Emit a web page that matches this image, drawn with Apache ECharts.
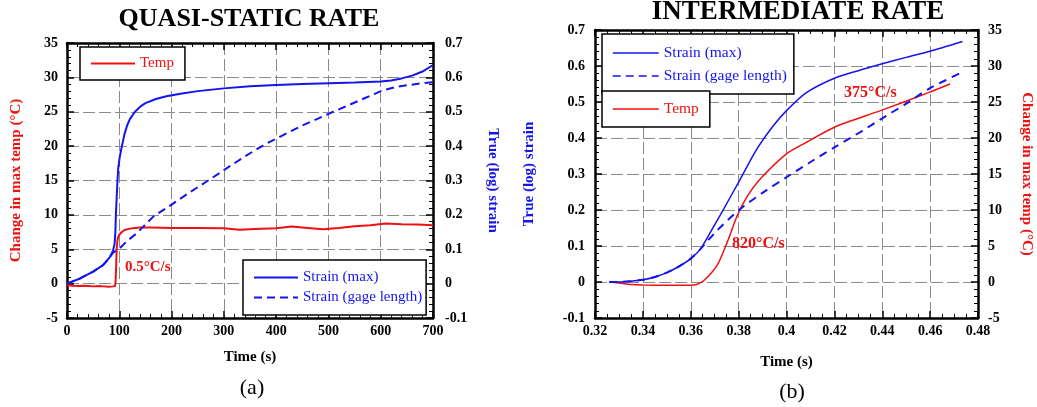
<!DOCTYPE html>
<html><head><meta charset="utf-8">
<script src="https://cdn.jsdelivr.net/npm/echarts/dist/echarts.min.js"></script>
<style>html,body{margin:0;padding:0;background:#fff}#c{width:1037px;height:407px}</style>
</head><body><div id="c"></div>
<script>
// ---------- (a) QUASI-STATIC RATE ----------
const qsTempTime = [0, 10, 20, 30, 40, 50, 60, 70, 80, 88, 92, 93, 94, 95, 96.5, 98, 100, 105, 110, 120, 130, 140, 160, 200, 250, 300, 330, 360, 400, 430, 460, 490, 520, 550, 580, 610, 640, 670, 700];
const qsTemp     = [-0.2, -0.3, -0.35, -0.3, -0.35, -0.4, -0.35, -0.4, -0.45, -0.4, -0.35, 0.5, 2.5, 5.0, 6.3, 6.8, 7.1, 7.5, 7.8, 8.0, 8.1, 8.15, 8.15, 8.1, 8.1, 8.05, 7.85, 7.95, 8.05, 8.3, 8.1, 7.9, 8.1, 8.35, 8.5, 8.75, 8.65, 8.6, 8.5];
const qsMaxTime  = [0, 25, 50, 69, 82, 88, 91, 92.5, 93.5, 95, 96.5, 98, 101, 105, 110, 115, 120, 130, 140, 150, 170, 190, 220, 250, 300, 350, 400, 450, 500, 550, 600, 620, 640, 660, 680, 700];
const qsMax      = [0, 0.015, 0.035, 0.054, 0.077, 0.096, 0.115, 0.15, 0.2, 0.25, 0.3, 0.335, 0.37, 0.4, 0.435, 0.46, 0.478, 0.5, 0.515, 0.525, 0.537, 0.545, 0.553, 0.56, 0.568, 0.574, 0.578, 0.581, 0.583, 0.585, 0.588, 0.591, 0.597, 0.605, 0.617, 0.636];
const qsGageTime = [0, 25, 50, 69, 82, 88, 95, 101, 115, 133, 165, 200, 232, 270, 300, 340, 382, 420, 450, 480, 509, 540, 570, 605, 630, 650, 675, 700];
const qsGage     = [0, 0.015, 0.035, 0.054, 0.077, 0.09, 0.097, 0.103, 0.124, 0.146, 0.195, 0.23, 0.263, 0.3, 0.33, 0.37, 0.408, 0.437, 0.46, 0.48, 0.5, 0.52, 0.54, 0.563, 0.572, 0.577, 0.582, 0.586];

// ---------- (b) INTERMEDIATE RATE ----------
const irMaxTime  = [0.326, 0.33, 0.335, 0.34, 0.345, 0.35, 0.355, 0.36, 0.3641, 0.3683, 0.3738, 0.3807, 0.3876, 0.3945, 0.40, 0.4083, 0.42, 0.43, 0.44, 0.45, 0.46, 0.4735];
const irMax      = [0, 0, 0.002, 0.006, 0.014, 0.026, 0.043, 0.065, 0.092, 0.139, 0.203, 0.286, 0.369, 0.434, 0.476, 0.526, 0.566, 0.587, 0.606, 0.624, 0.641, 0.668];
const irGageTime = [0.326, 0.33, 0.335, 0.34, 0.345, 0.35, 0.355, 0.36, 0.3641, 0.371, 0.3807, 0.3903, 0.40, 0.4097, 0.42, 0.4317, 0.4393, 0.4497, 0.4593, 0.4731];
const irGage     = [0, 0, 0.002, 0.006, 0.014, 0.026, 0.043, 0.065, 0.092, 0.143, 0.203, 0.249, 0.291, 0.332, 0.374, 0.42, 0.452, 0.494, 0.536, 0.582];
const irTempTime = [0.326, 0.33, 0.335, 0.34, 0.35, 0.36, 0.3625, 0.3655, 0.371, 0.3752, 0.3794, 0.3834, 0.389, 0.40, 0.4083, 0.42, 0.4393, 0.4593, 0.4683];
const irTemp     = [0, -0.15, -0.35, -0.42, -0.45, -0.45, -0.35, 0.2, 2.3, 5.5, 9.2, 11.8, 14.3, 17.8, 19.4, 21.5, 23.8, 26.3, 27.5];

const titles = ['QUASI-STATIC RATE', 'INTERMEDIATE RATE'];
const captions = ['(a)', '(b)'];
const rateNotes = ['0.5°C/s', '820°C/s', '375°C/s'];

const FONT = '"Liberation Serif","Times New Roman",serif';
const RED = '#ee1111', BLUE = '#1414ee';
const pairs = (xs, ys) => xs.map((x, i) => [x, ys[i]]);

function axis(extra) {
  const base = {
    type: 'value',
    axisLine: {show: true, onZero: false, lineStyle: {color: '#000', width: 2.5}},
    axisTick: {show: true, inside: true, length: 7, lineStyle: {color: '#000', width: 1.5}},
    minorTick: {show: true, splitNumber: 5, length: 4, lineStyle: {color: '#000', width: 1}},
    axisLabel: {show: true, color: '#000', fontFamily: FONT, fontWeight: 'bold', fontSize: 14},
    splitLine: {show: false},
    nameLocation: 'middle',
    nameMoveOverlap: false,
    nameTextStyle: {fontFamily: FONT, fontWeight: 'bold', fontSize: 15, color: '#000'}
  };
  const out = Object.assign({}, base, extra);
  ['axisLine', 'axisTick', 'minorTick', 'axisLabel', 'splitLine', 'nameTextStyle'].forEach(k => {
    if (extra[k]) out[k] = Object.assign({}, base[k], extra[k]);
  });
  return out;
}
const grid = {show: true, lineStyle: {color: '#8a8a8a', type: [12, 4], width: 1}};

const legendBase = {
  orient: 'vertical', selectedMode: false, borderColor: '#000', borderWidth: 1.5,
  borderRadius: 0, backgroundColor: '#fff', itemWidth: 44, itemHeight: 14,
  itemStyle: {opacity: 0, color: 'rgba(0,0,0,0)', borderWidth: 0},
  textStyle: {fontFamily: FONT, fontSize: 15}
};

const smoothLine = {smooth: 0.25};

const option = {
  animation: false,
  backgroundColor: '#fff',
  grid: [
    {left: 67, top: 43, width: 366, height: 275, outerBoundsMode: 'none', containLabel: false},
    {left: 595, top: 30, width: 383, height: 288, outerBoundsMode: 'none', containLabel: false}
  ],
  xAxis: [
    axis({gridIndex: 0, min: 0, max: 700, interval: 100, position: 'bottom', splitLine: grid,
          axisLabel: {margin: 6}, name: 'Time (s)', nameGap: 32}),
    axis({gridIndex: 0, min: 0, max: 700, interval: 100, position: 'top', axisLabel: {show: false}}),
    axis({gridIndex: 1, min: 0.32, max: 0.48, interval: 0.02, position: 'bottom', splitLine: grid,
          minorTick: {splitNumber: 4}, axisLabel: {margin: 6}, name: 'Time (s)', nameGap: 37}),
    axis({gridIndex: 1, min: 0.32, max: 0.48, interval: 0.02, position: 'top',
          minorTick: {splitNumber: 4}, axisLabel: {show: false}})
  ],
  yAxis: [
    axis({gridIndex: 0, min: -5, max: 35, interval: 5, position: 'left', splitLine: grid,
          axisLabel: {margin: 9}, name: 'Change in max temp (°C)', nameGap: 43, nameRotate: 90,
          nameTextStyle: {color: RED}}),
    axis({gridIndex: 0, min: -0.1, max: 0.7, interval: 0.1, position: 'right',
          axisLabel: {margin: 12}, name: 'True (log) strain', nameGap: 52, nameRotate: -90,
          nameTextStyle: {color: BLUE}}),
    axis({gridIndex: 1, min: -0.1, max: 0.7, interval: 0.1, position: 'left', splitLine: grid,
          axisLabel: {margin: 10}, name: 'True (log) strain', nameGap: 58, nameRotate: 90,
          nameTextStyle: {color: BLUE}}),
    axis({gridIndex: 1, min: -5, max: 35, interval: 5, position: 'right',
          axisLabel: {margin: 10}, name: 'Change in max temp (°C)', nameGap: 41, nameRotate: -90,
          nameTextStyle: {color: RED}})
  ],
  legend: [
    Object.assign({}, legendBase, {left: 80, top: 47, padding: [9, 11, 9, 10],
      data: [{name: 'Temp', textStyle: {color: RED}}], lineStyle: {width: 2}}),
    Object.assign({}, legendBase, {left: 243, top: 260, padding: [10, 4, 10, 10], itemGap: 5,
      data: [{name: 'Strain (max)', textStyle: {color: BLUE}},
             {name: 'Strain (gage length)', textStyle: {color: BLUE}}], lineStyle: {width: 2}}),
    Object.assign({}, legendBase, {left: 602, top: 34, padding: [11, 7, 10, 10], itemGap: 7, itemWidth: 46,
      textStyle: {fontFamily: FONT, fontSize: 15.5},
      data: [{name: 'Strain (max)', textStyle: {color: BLUE}},
             {name: 'Strain (gage length)', textStyle: {color: BLUE}}], lineStyle: {width: 1.5}}),
    Object.assign({}, legendBase, {left: 602, top: 91, padding: [10, 11, 10, 10], itemWidth: 46,
      textStyle: {fontFamily: FONT, fontSize: 15.5},
      data: [{name: 'Temp', textStyle: {color: RED}}], lineStyle: {width: 1.5}})
  ],
  series: [
    {name: 'Temp', type: 'line', xAxisIndex: 0, yAxisIndex: 0, symbol: 'none', showSymbol: false,
     data: pairs(qsTempTime, qsTemp), lineStyle: {color: RED, width: 2}, itemStyle: {color: RED}, z: 3},
    {name: 'Strain (max)', type: 'line', xAxisIndex: 0, yAxisIndex: 1, symbol: 'none', showSymbol: false,
     data: pairs(qsMaxTime, qsMax), lineStyle: {color: BLUE, width: 2}, itemStyle: {color: BLUE}, z: 4},
    {name: 'Strain (gage length)', type: 'line', xAxisIndex: 0, yAxisIndex: 1, symbol: 'none', showSymbol: false,
     data: pairs(qsGageTime, qsGage), lineStyle: {color: BLUE, width: 2, type: [8, 5]}, itemStyle: {color: BLUE}, z: 4},
    Object.assign({name: 'Strain (max)', type: 'line', xAxisIndex: 2, yAxisIndex: 2, symbol: 'none', showSymbol: false,
     data: pairs(irMaxTime, irMax), lineStyle: {color: BLUE, width: 1.5}, itemStyle: {color: BLUE}, z: 4}, smoothLine),
    Object.assign({name: 'Strain (gage length)', type: 'line', xAxisIndex: 2, yAxisIndex: 2, symbol: 'none', showSymbol: false,
     data: pairs(irGageTime, irGage), lineStyle: {color: BLUE, width: 2, type: [8, 6]}, itemStyle: {color: BLUE}, z: 4}, smoothLine),
    Object.assign({name: 'Temp', type: 'line', xAxisIndex: 2, yAxisIndex: 3, symbol: 'none', showSymbol: false,
     data: pairs(irTempTime, irTemp), lineStyle: {color: RED, width: 1.5}, itemStyle: {color: RED}, z: 3}, smoothLine)
  ],
  graphic: {elements: [
    {type: 'text', x: 249, y: 19, style: {text: titles[0], textAlign: 'center', textVerticalAlign: 'middle',
      font: 'bold 26px ' + FONT, fill: '#000'}},
    {type: 'text', x: 798, y: 12, style: {text: titles[1], textAlign: 'center', textVerticalAlign: 'middle',
      font: 'bold 27px ' + FONT, fill: '#000'}},
    {type: 'text', x: 252, y: 388, style: {text: captions[0], textAlign: 'center', textVerticalAlign: 'middle',
      font: '22px ' + FONT, fill: '#000'}},
    {type: 'text', x: 792, y: 392, style: {text: captions[1], textAlign: 'center', textVerticalAlign: 'middle',
      font: '22px ' + FONT, fill: '#000'}},
    {type: 'text', x: 125, y: 267, z: 10, style: {text: rateNotes[0], textAlign: 'left', textVerticalAlign: 'middle',
      font: 'bold 15px ' + FONT, fill: RED}},
    {type: 'text', x: 732, y: 244, z: 10, style: {text: rateNotes[1], textAlign: 'left', textVerticalAlign: 'middle',
      font: 'bold 16px ' + FONT, fill: RED}},
    {type: 'text', x: 844, y: 93, z: 10, style: {text: rateNotes[2], textAlign: 'left', textVerticalAlign: 'middle',
      font: 'bold 16px ' + FONT, fill: RED}}
  ]}
};

const chart = echarts.init(document.getElementById('c'), null, {renderer: 'canvas'});
chart.setOption(option);
</script>
</body></html>
